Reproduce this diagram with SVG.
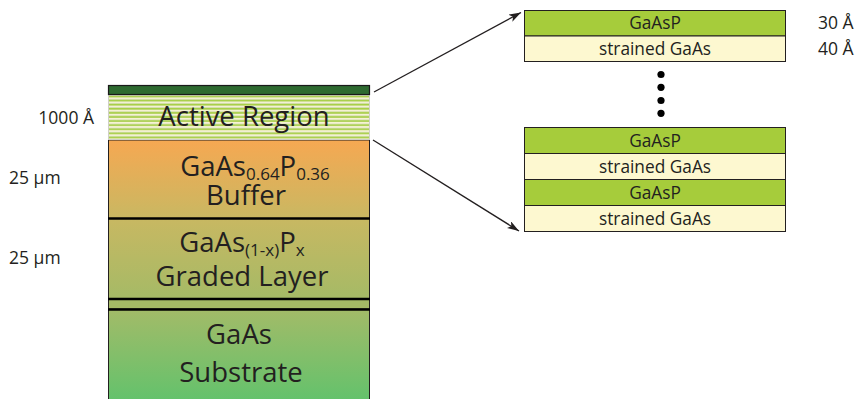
<svg xmlns="http://www.w3.org/2000/svg" width="862" height="399" viewBox="0 0 862 399">
<style>
text{font-family:"Open Sans","Liberation Sans",sans-serif;fill:#231f20}
.big{font-size:27.5px;text-anchor:middle}
.sub{font-size:17px}
.sm{font-size:17.5px}
.box{font-size:17.3px;text-anchor:middle}
.lay{stroke:#231f20;stroke-width:1}
.sep{stroke:#000;stroke-width:2.5}
.conn{stroke:#231f20;stroke-width:1.3;fill:none}
</style>
<defs>
<linearGradient id="gBuf" x1="0" y1="0" x2="0" y2="1">
<stop offset="0" stop-color="#f6a852"/><stop offset="1" stop-color="#c9b862"/>
</linearGradient>
<linearGradient id="gGrad" x1="0" y1="0" x2="0" y2="1">
<stop offset="0" stop-color="#c8b862"/><stop offset="1" stop-color="#a5ba66"/>
</linearGradient>
<linearGradient id="gSub" x1="0" y1="0" x2="0" y2="1">
<stop offset="0" stop-color="#a3bb68"/><stop offset="1" stop-color="#63c26c"/>
</linearGradient>
<pattern id="stripes" x="0" y="95" width="10" height="4.1" patternUnits="userSpaceOnUse">
<rect x="0" y="0" width="10" height="4.1" fill="#e4e4da"/>
<rect x="0" y="0.5" width="10" height="1.8" fill="#a8cf45"/>
<rect x="0" y="2.5" width="10" height="1.3" fill="#f8f4d2"/>
</pattern>
<marker id="arr" viewBox="0 0 12 8" refX="12" refY="4" markerWidth="12" markerHeight="8" markerUnits="userSpaceOnUse" orient="auto">
<path d="M0,0 L12,4 L0,8 L3,4 Z" fill="#231f20"/>
</marker>
</defs>

<g id="stack">
<g id="substrate">
<rect x="108.5" y="309" width="261" height="92" fill="url(#gSub)" class="lay"/>
<text class="big" x="239" y="344">GaAs</text>
<text class="big" x="241" y="382">Substrate</text>
</g>
<g id="thin-layer">
<rect x="108.5" y="299" width="261" height="10" fill="#a5ba66" class="lay"/>
</g>
<g id="graded">
<rect x="108.5" y="218.5" width="261" height="80.5" fill="url(#gGrad)" class="lay"/>
<text class="big" x="242" y="252">GaAs<tspan class="sub" dy="4">(1-x)</tspan><tspan dy="-4">P</tspan><tspan class="sub" dy="4">x</tspan></text>
<text class="big" x="242" y="286">Graded Layer</text>
</g>
<g id="buffer">
<rect x="108.5" y="140" width="261" height="78.5" fill="url(#gBuf)" class="lay"/>
<text class="big" x="255" y="176">GaAs<tspan class="sub" dy="4">0.64</tspan><tspan dy="-4">P</tspan><tspan class="sub" dy="4">0.36</tspan></text>
<text class="big" x="246" y="205">Buffer</text>
</g>
<line class="sep" x1="108" y1="218.5" x2="370" y2="218.5"/>
<line class="sep" x1="108" y1="299" x2="370" y2="299"/>
<line class="sep" x1="108" y1="309.5" x2="370" y2="309.5"/>
<g id="active">
<rect x="108.5" y="95" width="261" height="44.5" fill="url(#stripes)" stroke="#cfcfc8" stroke-width="1"/>
<text class="big" x="244" y="126">Active Region</text>
</g>
<g id="cap">
<rect x="108.5" y="85.5" width="261" height="9" fill="#2e6a30" stroke="#1a1a1a" stroke-width="1.2"/>
</g>
</g>

<g id="labels-left">
<text class="sm" x="94" y="124" text-anchor="end">1000 Å</text>
<text class="sm" x="9" y="184">25 µm</text>
<text class="sm" x="9" y="264">25 µm</text>
</g>

<g id="detail-top">
<rect x="524.5" y="10.5" width="261" height="25.5" fill="#a6cc3b" class="lay"/>
<rect x="524.5" y="36" width="261" height="25.5" fill="#fdf8d0" class="lay"/>
<text class="box" x="655" y="29">GaAsP</text>
<text class="box" x="655" y="55">strained GaAs</text>
<text class="sm" x="818" y="29">30 Å</text>
<text class="sm" x="818" y="55">40 Å</text>
</g>

<g id="dots" fill="#000">
<circle cx="661" cy="74.5" r="3.6"/>
<circle cx="661" cy="87.3" r="3.6"/>
<circle cx="661" cy="100.5" r="3.6"/>
<circle cx="661" cy="113.3" r="3.6"/>
</g>

<g id="detail-bottom">
<rect x="524.5" y="127.5" width="261" height="26" fill="#a6cc3b" class="lay"/>
<rect x="524.5" y="153.5" width="261" height="26" fill="#fdf8d0" class="lay"/>
<rect x="524.5" y="179.5" width="261" height="26" fill="#a6cc3b" class="lay"/>
<rect x="524.5" y="205.5" width="261" height="26" fill="#fdf8d0" class="lay"/>
<text class="box" x="655" y="147">GaAsP</text>
<text class="box" x="655" y="173">strained GaAs</text>
<text class="box" x="655" y="199">GaAsP</text>
<text class="box" x="655" y="225">strained GaAs</text>
</g>

<g id="connectors">
<line class="conn" x1="374" y1="92" x2="521" y2="12.5" marker-end="url(#arr)"/>
<line class="conn" x1="373" y1="140" x2="519" y2="231" marker-end="url(#arr)"/>
</g>
</svg>
